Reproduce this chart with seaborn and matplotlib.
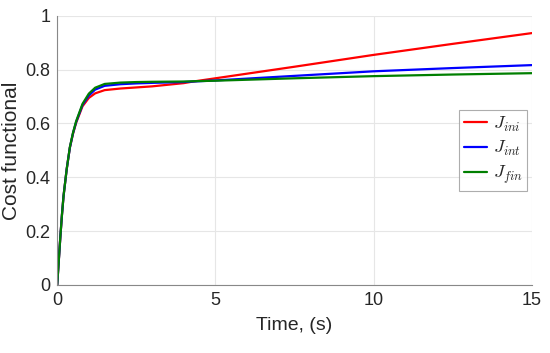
import pandas as pd
import seaborn as sns
import matplotlib.pyplot as plt

# time samples (s) and the three cost functionals
time = [0, 0.05, 0.1, 0.15, 0.2, 0.3, 0.4, 0.5, 0.6, 0.8, 1.0, 1.2, 1.5, 2, 2.5, 3, 4, 4.3, 5, 7.5, 10, 12.5, 15]
j_ini = [0, 0.09, 0.18, 0.26, 0.33, 0.43, 0.51, 0.562, 0.603, 0.664, 0.695, 0.712, 0.724, 0.73, 0.734, 0.738, 0.75, 0.756, 0.768, 0.811, 0.855, 0.896, 0.936]
j_int = [0, 0.09, 0.18, 0.26, 0.33, 0.43, 0.51, 0.564, 0.606, 0.669, 0.704, 0.726, 0.740, 0.746, 0.749, 0.751, 0.754, 0.756, 0.76, 0.777, 0.794, 0.806, 0.817]
j_fin = [0, 0.09, 0.18, 0.26, 0.33, 0.43, 0.512, 0.566, 0.609, 0.673, 0.711, 0.733, 0.747, 0.752, 0.754, 0.755, 0.756, 0.757, 0.759, 0.768, 0.776, 0.782, 0.787]
names = ["$J_{ini}$", "$J_{int}$", "$J_{fin}$"]
colors = ["#ff0000", "#0000ff", "#007f00"]

df = pd.DataFrame({"t": time * 3,
                   "J": j_ini + j_int + j_fin,
                   "name": [n for n in names for _ in time]})

sns.set_style("white")
plt.rcParams["font.family"] = ["Liberation Sans", "DejaVu Sans"]
plt.rcParams["mathtext.fontset"] = "cm"

fig = plt.figure(figsize=(5.5, 3.53), dpi=100)
ax = fig.add_axes([0.104, 0.193, 0.863, 0.762])

sns.lineplot(data=df, x="t", y="J", hue="name", palette=colors, linewidth=1.6, ax=ax)

ax.set_xlim(0, 15)
ax.set_ylim(0, 1)
ax.set_xticks([0, 5, 10, 15])
ax.set_yticks([0, 0.2, 0.4, 0.6, 0.8, 1])
ax.set_yticklabels(["0", "0.2", "0.4", "0.6", "0.8", "1"])
ax.grid(True, color="#e6e6e6", linewidth=0.8)
ax.tick_params(direction="in", length=3, labelsize=13, color="#888888", pad=5)
for s in ["top", "right"]:
    ax.spines[s].set_visible(False)
for s in ["left", "bottom"]:
    ax.spines[s].set_color("#888888")
    ax.spines[s].set_linewidth(0.8)

ax.set_xlabel("Time, (s)", fontsize=14, labelpad=6)
ax.set_ylabel("Cost functional", fontsize=15, labelpad=3)

leg = ax.legend(loc="center right", bbox_to_anchor=(0.99, 0.5), fontsize=13,
                frameon=True, fancybox=False, handlelength=1.3, borderpad=0.25,
                labelspacing=0.3, handletextpad=0.3, borderaxespad=0)
leg.get_frame().set_edgecolor("#999999")
leg.get_frame().set_linewidth(0.8)

plt.savefig("out.png", dpi=100)
